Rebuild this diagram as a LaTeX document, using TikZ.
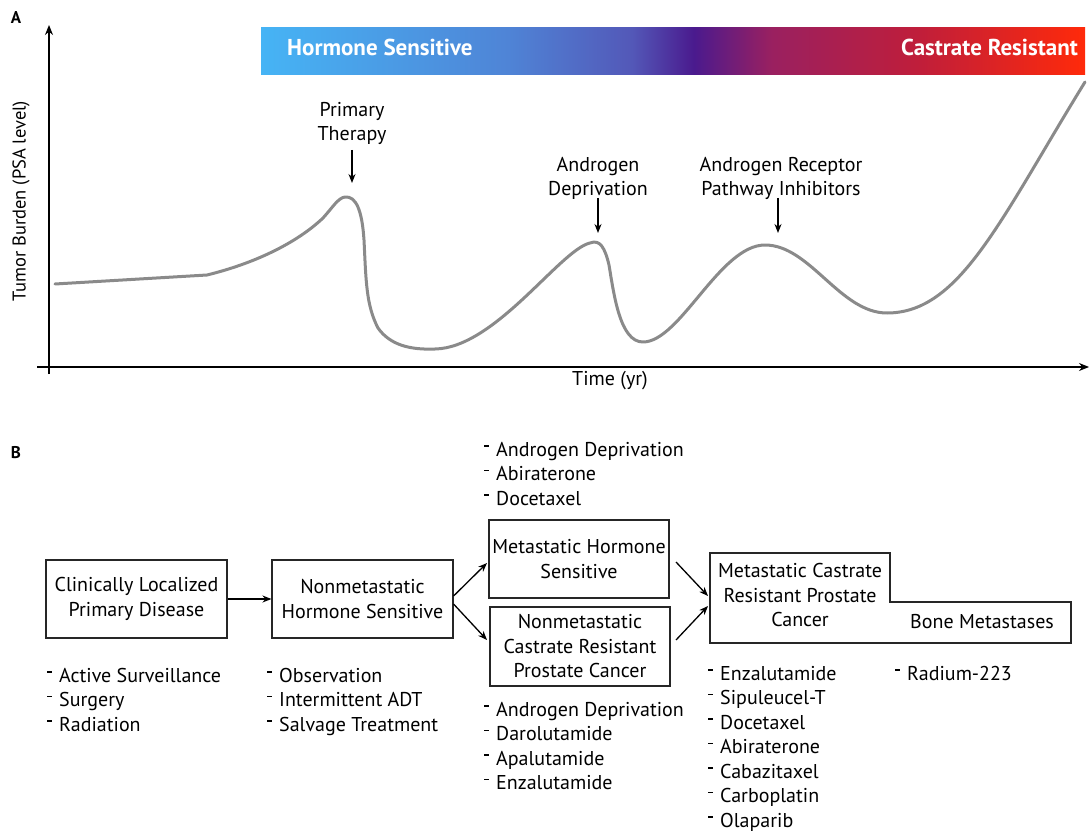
\documentclass[tikz,border=0pt]{standalone}
\usepackage{fontspec}
\setmainfont{PT Sans}
\usetikzlibrary{arrows.meta}
\definecolor{gA}{HTML}{46B4F5}
\definecolor{gB}{HTML}{4F84D6}
\definecolor{gC}{HTML}{5358B8}
\definecolor{gD}{HTML}{4A1A8E}
\definecolor{gE}{HTML}{9A2060}
\definecolor{gF}{HTML}{C01E3A}
\definecolor{gG}{HTML}{FF2A0A}
\definecolor{curvegray}{HTML}{8A8A8A}
\pgfdeclarehorizontalshading{stagebar}{100bp}{color(0bp)=(gA); color(25bp)=(gA); color(40bp)=(gB); color(47.5bp)=(gC); color(51.25bp)=(gD); color(56bp)=(gE); color(65bp)=(gF); color(75bp)=(gG); color(100bp)=(gG)}
\newcommand{\dsh}{\raisebox{9.5pt}{\rule{5pt}{1.6pt}}\hspace{7pt}}
\tikzset{
  txt/.style={font=\fontsize{20}{24.5}\selectfont, inner sep=0pt},
  boxn/.style={draw=black!85, line width=1.1pt, font=\fontsize{20}{24.5}\selectfont, align=center, inner sep=0pt},
  listn/.style={font=\fontsize{20}{24.5}\selectfont, align=left, anchor=north west, inner sep=0pt},
  arr/.style={-{Stealth[length=9pt,width=7pt]}, line width=1.3pt},
  axis/.style={-{Stealth[length=10pt,width=8pt]}, line width=1.4pt},
  panel/.style={font=\fontsize{17}{18}\selectfont\bfseries, inner sep=0pt},
  bartxt/.style={font=\fontsize{23}{24}\selectfont\bfseries, text=white, inner sep=0pt}
}
\begin{document}
\begin{tikzpicture}[x=1pt,y=-1pt]
\useasboundingbox (0,0) rectangle (1089,834);
% ---------- Panel A ----------
\node[panel] (pA) at (16,18) {A};
\coordinate (yb) at (49,374);
\coordinate (yt) at (49,25);
\coordinate (xl) at (37,367);
\coordinate (xr) at (1089,367);
\draw[axis] (yb) -- (yt);
\draw[axis] (xl) -- (xr);
\node[txt, font=\fontsize{18.5}{20}\selectfont, rotate=90] (ylab) at (21,201) {Tumor Burden (PSA level)};
\node[txt, anchor=north] (xlab) at (610,371) {Time (yr)};
\shade[shading=stagebar] (261,28) rectangle (1085,75);
\node[bartxt, anchor=west] (hs) at (287,47) {Hormone Sensitive};
\node[bartxt, anchor=east] (cr) at (1078,47) {Castrate Resistant};
% curve
\draw[curvegray, line width=3pt, line cap=round, line join=round]
 (55,284) -- (207,275)
 .. controls (260,262) and (300,240) .. (323,218)
 .. controls (333,207) and (338,198) .. (345,197)
 .. controls (356,196) and (362,210) .. (364,240)
 .. controls (366,280) and (366,305) .. (378,328)
 .. controls (390,345) and (410,350) .. (435,349)
 .. controls (495,348) and (560,250) .. (590,243)
 .. controls (600,239) and (605,248) .. (609,265)
 .. controls (614,295) and (620,342) .. (643,342)
 .. controls (680,342) and (720,245) .. (765,245)
 .. controls (810,245) and (840,313) .. (887,313)
 .. controls (960,313) and (1000,220) .. (1085,82);
% annotations
\node[txt, align=center, anchor=south] (pt) at (352,145) {Primary\\Therapy};
\coordinate (ptt) at (352,183);
\draw[arr] (352,150) -- (ptt);
\node[txt, align=center, anchor=south] (ad) at (598,200) {Androgen\\Deprivation};
\coordinate (adt) at (598,233);
\draw[arr] (598,198) -- (adt);
\node[txt, align=center, anchor=south] (ar) at (781,200) {Androgen Receptor\\Pathway Inhibitors};
\coordinate (art) at (778,233);
\draw[arr] (778,198) -- (art);
% ---------- Panel B ----------
\node[panel] (pB) at (16,453) {B};
\node[boxn, minimum width=181pt, minimum height=78pt] (b1) at (136.5,599) {Clinically Localized\\Primary Disease};
\node[boxn, minimum width=181pt, minimum height=78pt] (b2) at (362.5,599) {Nonmetastatic\\Hormone Sensitive};
\node[boxn, minimum width=180pt, minimum height=78pt] (b3) at (579,559) {Metastatic Hormone\\Sensitive};
\node[boxn, minimum width=180pt, minimum height=79pt] (b4) at (580,646.5) {Nonmetastatic\\Castrate Resistant\\Prostate Cancer};
% box 5 (stepped outline)
\draw[draw=black!85, line width=1.1pt] (710,553) -- (890,553) -- (890,602) -- (1071,602) -- (1071,643) -- (710,643) -- cycle;
\node[txt, align=center] (b5) at (800,595) {Metastatic Castrate\\Resistant Prostate\\Cancer};
\node[txt] (bm) at (982,622) {Bone Metastases};
\coordinate (b5a) at (708,596);
\coordinate (b5b) at (708,606);
\draw[arr] (b1.east) -- (b2.west);
\draw[arr] ([yshift=3pt]b2.east) -- (487,563);
\draw[arr] ([yshift=-5pt]b2.east) -- (487,640);
\draw[arr] (676,562) -- (b5a);
\draw[arr] (676,640) -- (b5b);
% lists
\node[listn] (l1) at (47,668) {\dsh Active Surveillance\\\dsh Surgery\\\dsh Radiation};
\node[listn] (l2) at (267,668) {\dsh Observation\\\dsh Intermittent ADT\\\dsh Salvage Treatment};
\node[listn] (l3) at (484,442) {\dsh Androgen Deprivation\\\dsh Abiraterone\\\dsh Docetaxel};
\node[listn] (l4) at (484,702) {\dsh Androgen Deprivation\\\dsh Darolutamide\\\dsh Apalutamide\\\dsh Enzalutamide};
\node[listn] (l5) at (708,666) {\dsh Enzalutamide\\\dsh Sipuleucel-T\\\dsh Docetaxel\\\dsh Abiraterone\\\dsh Cabazitaxel\\\dsh Carboplatin\\\dsh Olaparib};
\node[listn] (l6) at (895,666) {\dsh Radium-223};
\end{tikzpicture}
\end{document}
